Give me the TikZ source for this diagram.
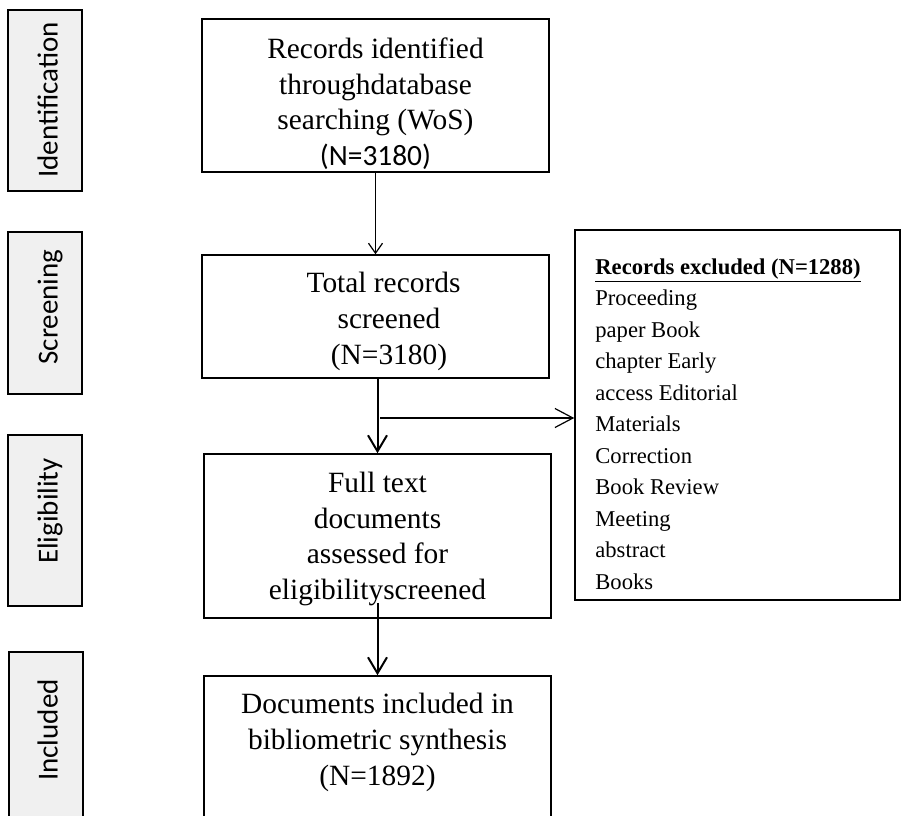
\documentclass[tikz,border=0pt]{standalone}
\usepackage{fontspec}
\setmainfont{Liberation Serif}
\newfontfamily\stagefont{Carlito}
\usetikzlibrary{arrows.meta}
\definecolor{stagefill}{RGB}{240,240,240}
\tikzset{
  stagebox/.style={draw, line width=0.75pt, fill=stagefill, inner sep=0pt, minimum width=37pt},
  stagetext/.style={rotate=90, inner sep=0pt, text height=0.65em, text depth=0pt,
    font=\stagefont\fontsize{14.5}{17}\selectfont},
  flowbox/.style={draw, line width=0.75pt, inner sep=0pt, minimum width=173.5pt},
  flowtext/.style={align=center, inner sep=0pt, font=\fontsize{14.7}{17.8}\selectfont},
  flowarrow/.style={-{Straight Barb[length=5pt,width=7pt]}, line width=0.6pt},
  thickarrow/.style={-{Straight Barb[length=8pt,width=9.5pt]}, line width=1pt},
}

\begin{document}
\begin{tikzpicture}[x=0.5pt,y=-0.5pt]
    \useasboundingbox (0,0) rectangle (902,816);
    \clip (0,0) rectangle (902,816);

    % Stages (left column)
    \node[stagebox, minimum height=90.5pt] (ident) at (45,100.5) {};
    \node[stagebox, minimum height=81pt] (screen) at (45,313) {};
    \node[stagebox, minimum height=85.5pt] (elig) at (45,520.5) {};
    \node[stagebox, minimum height=94pt] (incl) at (46,746) {};
    \node[stagetext] (identtxt) at (51,100) {Identification};
    \node[stagetext] (screentxt) at (51,307) {Screening};
    \node[stagetext] (eligtxt) at (51,511) {Eligibility};
    \node[stagetext] (incltxt) at (51,730) {Included};

    % Flow boxes
    \node[flowbox, minimum height=76.5pt] (records) at (375.5,95.5) {};
    \node[flowtext] (recordstxt) at (375.5,103.5)
        {Records identified\\throughdatabase\\searching (WoS)\\{\stagefont (N=3180)}};
    \node[flowbox, minimum height=61.5pt] (screened) at (375.5,316.5) {};
    \node[flowtext] (screenedtxt) at (389,321.5)
        {Total records\hspace*{5.5pt}\\screened\\(N=3180)};
    \node[flowbox, minimum height=82pt] (fulltext) at (377.5,536) {};
    \node[flowtext] (fulltexttxt) at (377.5,539)
        {Full text\\documents\\assessed for\\eligibilityscreened};
    \node[flowbox, minimum height=82pt] (included) at (377.5,758) {};
    \node[flowtext] (includedtxt) at (377.5,742.5)
        {Documents included in\\bibliometric synthesis\\(N=1892)};

    % Excluded records
    \node[flowbox, minimum width=162.5pt, minimum height=185pt] (excluded) at (737.5,415) {};
    \node[anchor=west, align=left, inner sep=0pt, font=\fontsize{11.3}{15.75}\selectfont]
        (exclist) at (595,424) {\underline{\textbf{Records excluded (N=1288)}}\\Proceeding\\paper Book\\
        chapter Early\\access Editorial\\Materials\\Correction\\Book Review\\Meeting\\abstract\\Books};

    % Arrows
    \draw[flowarrow] (records.south) -- (screened.north);
    \draw[thickarrow] (fulltext.north |- screened.south) -- (fulltext.north);
    \coordinate (split) at (380,418);
    \draw[flowarrow, -{Straight Barb[length=9pt,width=9.5pt]}] (split) -- (split -| excluded.west);
    \draw[thickarrow] ([yshift=8pt]fulltext.south) -- (included.north);
\end{tikzpicture}
\end{document}
